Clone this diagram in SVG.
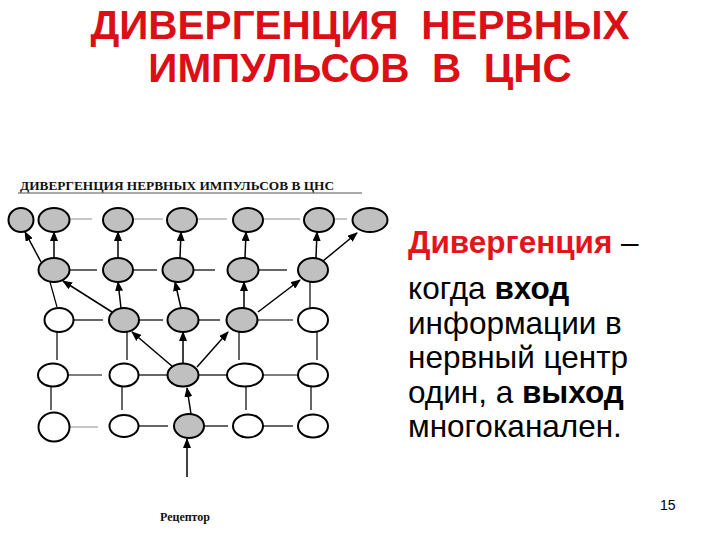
<svg xmlns="http://www.w3.org/2000/svg" width="720" height="540" viewBox="0 0 720 540">
<style>
.title{font-family:"Liberation Sans",Arial,sans-serif;font-weight:bold;font-size:40.5px;fill:#dc0f16;text-anchor:middle;white-space:pre}
.body{font-family:"Liberation Sans",Arial,sans-serif;font-size:31.5px;fill:#000}
.red{fill:#e3141b;font-weight:bold}
.b{font-weight:bold}
.hdr{font-family:"Liberation Serif","Times New Roman",serif;font-weight:bold;font-size:12px;fill:#111}
.g ellipse{fill:#c0c0c0;stroke:#000;stroke-width:2}
.w ellipse{fill:#fff;stroke:#000;stroke-width:2}
.ln{stroke:#000;stroke-width:1.2;fill:none}
.lg{stroke:#c8c8c8;stroke-width:2;fill:none}
.ar{stroke:#000;stroke-width:1.5;fill:none;marker-end:url(#ah)}
</style>
<defs>
<marker id="ah" markerUnits="userSpaceOnUse" markerWidth="10" markerHeight="8" refX="9" refY="4" orient="auto">
<path d="M0,0 L10,4 L0,8 Z" fill="#000"/>
</marker>
</defs>
<rect width="720" height="540" fill="#fff"/>
<text class="title" x="360" y="39" xml:space="preserve">ДИВЕРГЕНЦИЯ  НЕРВНЫХ</text>
<text class="title" x="360" y="82" xml:space="preserve">ИМПУЛЬСОВ  В  ЦНС</text>
<text class="hdr" x="20" y="190" textLength="314" lengthAdjust="spacingAndGlyphs">ДИВЕРГЕНЦИЯ НЕРВНЫХ ИМПУЛЬСОВ В ЦНС</text>
<line x1="18" y1="193" x2="362" y2="193" stroke="#555" stroke-width="1"/>
<g id="connectors">
<line class="lg" x1="69" y1="219" x2="92" y2="219"/>
<line class="lg" x1="133" y1="219" x2="163" y2="219"/>
<line class="lg" x1="198" y1="219" x2="227" y2="219"/>
<line class="lg" x1="263" y1="219" x2="300" y2="219"/>
<line class="lg" x1="335" y1="219" x2="347" y2="219"/>
<line class="ln" x1="69" y1="270" x2="97" y2="270"/>
<line class="ln" x1="133" y1="270" x2="157" y2="270"/>
<line class="ln" x1="193" y1="270" x2="215" y2="270"/>
<line class="ln" x1="258" y1="270" x2="287" y2="270"/>
<line class="ln" x1="74" y1="320" x2="103" y2="320"/>
<line class="ln" x1="139" y1="320" x2="163" y2="320"/>
<line class="ln" x1="198" y1="320" x2="220" y2="320"/>
<line class="ln" x1="258" y1="320" x2="293" y2="320"/>
<line class="ln" x1="68" y1="375" x2="102" y2="375"/>
<line class="ln" x1="139" y1="375" x2="168" y2="375"/>
<line class="ln" x1="198" y1="375" x2="227" y2="375"/>
<line class="ln" x1="262" y1="375" x2="298" y2="375"/>
<line class="lg" x1="70" y1="427" x2="98" y2="427"/>
<line class="ln" x1="139" y1="426" x2="168" y2="426"/>
<line class="ln" x1="204" y1="426" x2="228" y2="426"/>
<line class="ln" x1="263" y1="426" x2="293" y2="426"/>
<line class="ln" x1="57" y1="332" x2="57" y2="360"/>
<line class="ln" x1="127" y1="332" x2="127" y2="360"/>
<line class="ln" x1="239" y1="332" x2="239" y2="360"/>
<line class="ln" x1="317" y1="332" x2="317" y2="360"/>
<line class="ln" x1="51" y1="387" x2="51" y2="410"/>
<line class="ln" x1="122" y1="387" x2="122" y2="410"/>
<line class="ln" x1="246" y1="387" x2="246" y2="410"/>
<line class="ln" x1="311" y1="387" x2="311" y2="410"/>
<line class="ln" x1="50" y1="282" x2="57" y2="307"/>
<line class="ln" x1="310" y1="282" x2="310" y2="308"/>
<line class="ar" x1="54" y1="258" x2="54" y2="232"/>
<line class="ar" x1="118" y1="258" x2="118" y2="232"/>
<line class="ar" x1="180" y1="258" x2="181" y2="232"/>
<line class="ar" x1="245" y1="258" x2="246" y2="232"/>
<line class="ar" x1="316" y1="258" x2="317" y2="232"/>
<line class="ar" x1="41" y1="262" x2="25" y2="232"/>
<line class="ar" x1="323" y1="261" x2="357" y2="233"/>
<line class="ar" x1="112" y1="312" x2="63" y2="281"/>
<line class="ar" x1="121" y1="308" x2="118" y2="282"/>
<line class="ar" x1="181" y1="308" x2="175" y2="282"/>
<line class="ar" x1="244" y1="308" x2="244" y2="282"/>
<line class="ar" x1="258" y1="312" x2="300" y2="280"/>
<line class="ar" x1="173" y1="367" x2="132" y2="332"/>
<line class="ar" x1="183" y1="364" x2="183" y2="332"/>
<line class="ar" x1="197" y1="367" x2="228" y2="332"/>
<line class="ar" x1="191" y1="414" x2="187" y2="388"/>
<line class="ar" x1="187" y1="477" x2="187" y2="439"/>
</g>
<g id="n11" class="g"><ellipse cx="21" cy="220" rx="12.5" ry="12"/></g>
<g id="n12" class="g"><ellipse cx="54" cy="220" rx="15.5" ry="12"/></g>
<g id="n13" class="g"><ellipse cx="118" cy="220" rx="15" ry="12"/></g>
<g id="n14" class="g"><ellipse cx="182" cy="220" rx="15" ry="12"/></g>
<g id="n15" class="g"><ellipse cx="248" cy="220" rx="15" ry="12"/></g>
<g id="n16" class="g"><ellipse cx="319" cy="220" rx="15" ry="12"/></g>
<g id="n17" class="g"><ellipse cx="370" cy="220" rx="17.5" ry="12"/></g>
<g id="n21" class="g"><ellipse cx="54" cy="270" rx="15.5" ry="12"/></g>
<g id="n22" class="g"><ellipse cx="118" cy="270" rx="15" ry="12"/></g>
<g id="n23" class="g"><ellipse cx="178" cy="270" rx="15.5" ry="12"/></g>
<g id="n24" class="g"><ellipse cx="243" cy="270" rx="15.5" ry="12"/></g>
<g id="n25" class="g"><ellipse cx="313" cy="270" rx="15" ry="12"/></g>
<g id="n31" class="w"><ellipse cx="59" cy="320" rx="14.5" ry="12"/></g>
<g id="n32" class="g"><ellipse cx="124" cy="320" rx="15" ry="12"/></g>
<g id="n33" class="g"><ellipse cx="183" cy="320" rx="15.5" ry="12"/></g>
<g id="n34" class="g"><ellipse cx="242" cy="320" rx="15.5" ry="12"/></g>
<g id="n35" class="w"><ellipse cx="313" cy="320" rx="15" ry="12"/></g>
<g id="n41" class="w"><ellipse cx="53" cy="375" rx="15" ry="11.5"/></g>
<g id="n42" class="w"><ellipse cx="124" cy="375" rx="14.5" ry="11.5"/></g>
<g id="n43" class="g"><ellipse cx="183" cy="375" rx="15.5" ry="11.5"/></g>
<g id="n44" class="w"><ellipse cx="245" cy="375" rx="18" ry="11.5"/></g>
<g id="n45" class="w"><ellipse cx="313" cy="375" rx="15" ry="11.5"/></g>
<g id="n51" class="w"><ellipse cx="54" cy="427" rx="15.5" ry="14.5"/></g>
<g id="n52" class="w"><ellipse cx="124" cy="426" rx="14.5" ry="11"/></g>
<g id="n53" class="g"><ellipse cx="189" cy="426" rx="15" ry="12"/></g>
<g id="n54" class="w"><ellipse cx="248" cy="426" rx="15" ry="11.5"/></g>
<g id="n55" class="w"><ellipse cx="313" cy="426" rx="15" ry="11.5"/></g>
<text class="hdr" x="185" y="521" text-anchor="middle" font-size="10px">Рецептор</text>
<text class="body" x="408" y="253"><tspan class="red">Дивергенция</tspan> –</text>
<text class="body" x="408" y="299">когда <tspan class="b">вход</tspan></text>
<text class="body" x="408" y="334">информации в</text>
<text class="body" x="408" y="368">нервный центр</text>
<text class="body" x="408" y="403">один, а <tspan class="b">выход</tspan></text>
<text class="body" x="408" y="437">многоканален.</text>
<text x="660" y="510" font-family="Liberation Sans,Arial,sans-serif" font-size="14px" fill="#000">15</text>
</svg>
